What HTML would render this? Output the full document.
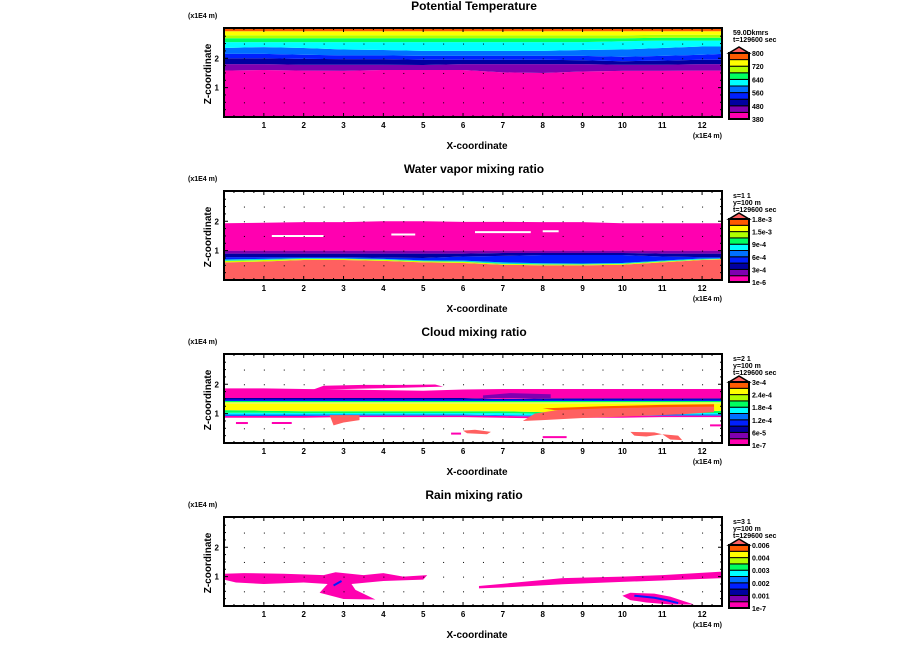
<!DOCTYPE html>
<html><head><meta charset="utf-8">
<style>
html,body{margin:0;padding:0;background:#fff;}
svg{display:block;}
text{font-family:"Liberation Sans",sans-serif;font-weight:bold;fill:#000;}
</style></head>
<body>
<svg id="chart" width="904" height="654" viewBox="0 0 904 654"></svg>
<script>
// ---------- data ----------
const xs = [0,1,2,3,4,5,6,7,8,9,10,11,12,12.5];
const xTicks = [1,2,3,4,5,6,7,8,9,10,11,12];
const zTicks = [1,2];
const titles = ["Potential Temperature","Water vapor mixing ratio","Cloud mixing ratio","Rain mixing ratio"];
const infoLines = [["59.0Dkmrs","t=129600 sec"],["s=1 1","y=100 m","t=129600 sec"],["s=2 1","y=100 m","t=129600 sec"],["s=3 1","y=100 m","t=129600 sec"]];
const cbLabels = [["800","720","640","560","480","380"],["1.8e-3","1.5e-3","9e-4","6e-4","3e-4","1e-6"],["3e-4","2.4e-4","1.8e-4","1.2e-4","6e-5","1e-7"],["0.006","0.004","0.003","0.002","0.001","1e-7"]];
const palette = ["#ff00b0","#8000b0","#0000a0","#0020ff","#0070ff","#00ffff","#00ff60","#b0ff00","#ffff00","#ff5a00"];
// panel 1 band tops (bottom to top)
const thetaMagenta = [1.58,1.6,1.58,1.57,1.6,1.6,1.6,1.52,1.5,1.55,1.57,1.57,1.58,1.58];
const thetaPurple = [1.8,1.8,1.78,1.78,1.78,1.77,1.8,1.8,1.8,1.8,1.78,1.78,1.8,1.8];
const thetaNavy = [2.0,2.0,1.98,1.97,1.97,1.95,1.95,1.95,1.95,1.93,1.9,1.92,1.95,1.95];
const thetaBlue = [2.15,2.15,2.12,2.1,2.1,2.08,2.08,2.08,2.08,2.08,2.05,2.08,2.12,2.15];
const thetaLightBlue = [2.35,2.38,2.35,2.3,2.28,2.25,2.25,2.25,2.25,2.28,2.3,2.35,2.4,2.4];
const thetaCyan = [2.55,2.55,2.55,2.55,2.55,2.55,2.55,2.55,2.55,2.55,2.58,2.6,2.6,2.6];
const thetaGreen = [2.68,2.68,2.68,2.68,2.68,2.68,2.68,2.68,2.68,2.68,2.68,2.7,2.7,2.7];
const thetaYG = [2.78,2.78,2.78,2.78,2.78,2.78,2.78,2.78,2.78,2.78,2.78,2.8,2.8,2.8];
const thetaYellow = [2.92,2.92,2.92,2.92,2.92,2.92,2.92,2.92,2.92,2.92,2.92,2.92,2.92,2.92];
const thetaOrange = [3.05,3.05,3.05,3.05,3.05,3.05,3.05,3.05,3.05,3.05,3.05,3.05,3.05,3.05];
// panel 2
const qvSalmon = [0.6,0.63,0.68,0.68,0.65,0.6,0.58,0.52,0.5,0.5,0.52,0.6,0.68,0.7];
const qvYellow = [0.65,0.68,0.72,0.72,0.69,0.64,0.62,0.55,0.53,0.53,0.55,0.63,0.7,0.72];
const qvCyan = [0.7,0.72,0.75,0.74,0.72,0.67,0.66,0.6,0.57,0.56,0.58,0.66,0.73,0.74];
const qvBlue = [0.78,0.78,0.78,0.78,0.76,0.75,0.8,0.82,0.85,0.85,0.85,0.8,0.78,0.78];
const qvNavy = [0.9,0.9,0.9,0.9,0.9,0.9,0.9,0.92,0.92,0.92,0.92,0.9,0.9,0.9];
const qvPurple = [1.0,1.0,1.0,1.0,1.0,1.0,1.0,1.0,1.0,1.0,1.0,1.0,1.0,1.0];
const qvMagenta = [1.93,1.95,1.97,1.97,2.0,2.0,1.98,1.98,1.97,1.97,1.93,1.93,1.93,1.93];
const qvGaps = [[1.2,2.5,1.5],[4.2,4.8,1.55],[6.3,7.7,1.63],[8.0,8.4,1.66]];
// panel 3
const qcBase = [0.86,0.86,0.86,0.88,0.88,0.88,0.88,0.86,0.84,0.86,0.86,0.88,0.88,0.88];
const qcMagLow = [0.92,0.92,0.92,0.93,0.93,0.93,0.93,0.92,0.9,0.92,0.92,0.93,0.93,0.93];
const qcBlue = [0.97,0.97,0.97,0.97,0.97,0.97,0.97,0.95,0.93,0.95,0.97,0.97,0.97,0.97];
const qcCyan = [1.03,1.03,1.02,1.02,1.02,1.02,1.02,1.02,1.0,1.0,1.0,1.0,1.02,1.02];
const qcGreen = [1.12,1.1,1.08,1.08,1.08,1.08,1.08,1.08,1.05,1.05,1.05,1.05,1.08,1.1];
const qcYellow = [1.33,1.33,1.33,1.33,1.33,1.33,1.33,1.33,1.33,1.33,1.33,1.33,1.33,1.33];
const qcYG = [1.39,1.39,1.39,1.39,1.39,1.39,1.39,1.39,1.39,1.39,1.39,1.39,1.39,1.39];
const qcGreen2 = [1.43,1.43,1.43,1.43,1.43,1.43,1.43,1.43,1.43,1.43,1.43,1.43,1.43,1.43];
const qcBlue2 = [1.48,1.48,1.48,1.48,1.48,1.48,1.48,1.48,1.48,1.48,1.48,1.48,1.48,1.48];
const qcNavy = [1.53,1.53,1.53,1.53,1.53,1.53,1.53,1.5,1.52,1.52,1.52,1.52,1.52,1.52];
const qcMagenta = [1.86,1.86,1.84,1.82,1.8,1.78,1.82,1.84,1.84,1.84,1.84,1.84,1.84,1.84];
const qcWisp = [[2.2,1.8],[2.5,1.95],[3.5,1.98],[4.5,1.98],[5.3,1.99],[5.5,1.92],[4.5,1.88],[3.5,1.85],[2.5,1.82]];
const qcPurplePatch = [[6.5,1.53],[6.5,1.62],[7.2,1.7],[8.2,1.66],[8.2,1.53]];
const qcSalmonA = [[7.5,0.75],[7.8,1.0],[8.5,1.15],[9.5,1.22],[11,1.25],[12.3,1.26],[12.3,1.05],[11.5,0.98],[10,0.9],[9,0.85],[8,0.78]];
const qcOrangeA = [[8.0,1.18],[9.5,1.25],[11,1.3],[12.3,1.32],[12.3,1.24],[11,1.22],[9.5,1.18],[8.3,1.12]];
const qcSalmonB = [[2.65,0.95],[3.4,0.95],[3.4,0.78],[3.0,0.7],[2.75,0.6]];
const qcSalmonC = [[6.0,0.42],[6.3,0.45],[6.7,0.38],[6.6,0.3],[6.1,0.33]];
const qcSalmonD = [[10.2,0.38],[10.8,0.36],[11.0,0.3],[10.6,0.22],[10.3,0.25]];
const qcSalmonE = [[11.0,0.3],[11.4,0.25],[11.5,0.1],[11.2,0.12]];
const qcMagBits = [[0.3,0.68,0.3],[1.2,0.68,0.5],[8.0,0.2,0.6],[5.7,0.32,0.25],[12.2,0.6,0.3]];
// panel 4
const qrPolyA = [[0,0.9],[0,1.1],[0.5,1.12],[1.5,1.1],[2.5,1.05],[2.8,1.15],[3.5,1.05],[4,1.12],[4.5,1.0],[5.1,1.05],[5.0,0.9],[4,0.85],[3.2,0.75],[3.3,0.55],[3.8,0.22],[3,0.24],[2.4,0.45],[2.6,0.75],[2,0.8],[1,0.75],[0.3,0.8]];
const qrPolyB = [[6.4,0.68],[7.5,0.82],[8.5,0.95],[10,1.0],[11,1.05],[12.5,1.17],[12.5,0.95],[11,0.87],[10,0.82],[8.5,0.74],[7,0.63],[6.4,0.6]];
const qrPolyC = [[10,0.35],[10.2,0.45],[10.8,0.42],[11.2,0.32],[11.8,0.05],[11.2,0.05],[10.6,0.12],[10.2,0.2]];
const qrBlueC = [[10.3,0.35],[10.8,0.28],[11.1,0.2],[11.4,0.1]];
const qrBlueA = [[2.75,0.7],[2.95,0.85]];

// ---------- layout ----------
const NS = "http://www.w3.org/2000/svg";
const svg = document.getElementById('chart');
const offsets = [0,163,326,489];
const PX0 = 224, PX1 = 722, XMAX = 12.5;
const PTOP = 28, PBOT = 117, ZMAX = 3.03;
function sx(x){ return PX0 + (x / XMAX) * (PX1 - PX0); }
function sz(o, z){ return o + PBOT - (z / ZMAX) * (PBOT - PTOP); }
function mk(tag, attrs, parent){
  const e = document.createElementNS(NS, tag);
  for (const k in attrs) e.setAttribute(k, attrs[k]);
  (parent || svg).appendChild(e);
  return e;
}
function bandsPanel(o, g, tops, colors){
  let prev = xs.map(() => 0);
  tops.forEach((top, i) => {
    const c = colors[i];
    if (c) {
      let d = "M" + xs.map((x, j) => sx(x) + "," + sz(o, Math.min(top[j], ZMAX))).join(" L");
      for (let j = xs.length - 1; j >= 0; j--) d += " L" + sx(xs[j]) + "," + sz(o, prev[j]);
      const p = mk('path', {d: d + "Z", fill: c}, g);
      
      
    }
    prev = top;
  });
}
function poly(o, g, pts, color){
  const p = mk('polygon', {points: pts.map(p => sx(p[0]) + "," + sz(o, p[1])).join(" "), fill: color}, g);
  
  
}
function line(o, g, pts, color, w){
  const p = mk('polyline', {points: pts.map(p => sx(p[0]) + "," + sz(o, p[1])).join(" "), fill: 'none', stroke: color, 'stroke-width': w}, g);
  
  
}
const P = palette, SAL = "#ff6060";

offsets.forEach((o, pi) => {
  const g = mk('g', {});
  
  
  const t = mk('text', {x: 474, y: o + 10, 'font-size': 12, 'text-anchor': 'middle'}, g);
  t.textContent = titles[pi];
  
  
  const zu = mk('text', {x: 188, y: o + 18, 'font-size': 7}, g);
  zu.textContent = "(x1E4 m)";
  
  

  const clipId = 'clip' + pi;
  const cp = mk('clipPath', {id: clipId}, g);
  mk('rect', {x: PX0, y: o + PTOP, width: PX1 - PX0, height: PBOT - PTOP}, cp);
  const pg = mk('g', {'clip-path': 'url(#' + clipId + ')'}, g);
  
  

  if (pi === 0) {
    bandsPanel(o, pg, [thetaMagenta,thetaPurple,thetaNavy,thetaBlue,thetaLightBlue,thetaCyan,thetaGreen,thetaYG,thetaYellow,thetaOrange], [P[0],P[1],P[2],P[3],P[4],P[5],P[6],P[7],P[8],P[9]]);
  } else if (pi === 1) {
    bandsPanel(o, pg, [qvSalmon,qvYellow,qvCyan,qvBlue,qvNavy,qvPurple,qvMagenta], [SAL,"#d0ff00","#00e0d0",P[3],P[2],P[1],P[0]]);
    qvGaps.forEach(gp => line(o, pg, [[gp[0], gp[2]], [gp[1], gp[2]]], "#fff", 2));
  } else if (pi === 2) {
    poly(o, pg, qcWisp, P[0]);
    bandsPanel(o, pg, [qcBase,qcMagLow,qcBlue,qcCyan,qcGreen,qcYellow,qcYG,qcGreen2,qcBlue2,qcNavy,qcMagenta], [null,P[0],P[4],P[5],P[6],P[8],"#e8ff40",P[6],P[3],P[2],P[0]]);
    poly(o, pg, qcPurplePatch, P[1]);
    [qcSalmonA,qcSalmonB,qcSalmonC,qcSalmonD,qcSalmonE].forEach(pp => poly(o, pg, pp, SAL));
    poly(o, pg, qcOrangeA, P[9]);
    qcMagBits.forEach(b => line(o, pg, [[b[0], b[1]], [b[0] + b[2], b[1]]], P[0], 2));
  } else {
    poly(o, pg, qrPolyA, P[0]);
    poly(o, pg, qrPolyB, P[0]);
    poly(o, pg, qrPolyC, P[0]);
    line(o, pg, qrBlueC, P[3], 2);
    line(o, pg, qrBlueA, P[3], 2);
  }
  // dot grid
  for (let x = 0.5; x < XMAX; x += 0.5) for (let z = 0.5; z < 3; z += 0.5) {
    const d = mk('rect', {x: sx(x), y: sz(o, z), width: 1, height: 1, fill: '#000'}, g);
    
    
  }
  const fr = mk('rect', {x: PX0, y: o + PTOP, width: PX1 - PX0, height: PBOT - PTOP, fill: 'none', stroke: '#000', 'stroke-width': 2}, g);
  
  
  // ticks
  for (let x = 0.25; x < XMAX; x += 0.25) {
    const maj = Math.abs(x - Math.round(x)) < 1e-6;
    const L = maj ? 4 : 2;
    mk('line', {x1: sx(x), x2: sx(x), y1: o + PBOT, y2: o + PBOT - L, stroke: '#000'}, g);
    mk('line', {x1: sx(x), x2: sx(x), y1: o + PTOP, y2: o + PTOP + L, stroke: '#000'}, g);
  }
  for (let z = 0.25; z < 3; z += 0.25) {
    const maj = Math.abs(z - Math.round(z)) < 1e-6;
    const L = maj ? 4 : 2;
    mk('line', {x1: PX0, x2: PX0 + L, y1: sz(o, z), y2: sz(o, z), stroke: '#000'}, g);
    mk('line', {x1: PX1, x2: PX1 - L, y1: sz(o, z), y2: sz(o, z), stroke: '#000'}, g);
  }
  xTicks.forEach(v => {
    const tl = mk('text', {x: sx(v), y: o + 128, 'font-size': 8, 'text-anchor': 'middle'}, g);
    tl.textContent = v;
    
    
  });
  zTicks.forEach(v => {
    const tl = mk('text', {x: 219, y: sz(o, v) + 3, 'font-size': 8, 'text-anchor': 'end'}, g);
    tl.textContent = v;
    
    
  });
  const xu = mk('text', {x: 722, y: o + 138, 'font-size': 7, 'text-anchor': 'end'}, g);
  xu.textContent = "(x1E4 m)";
  
  
  const xl = mk('text', {x: 477, y: o + 149, 'font-size': 10, 'text-anchor': 'middle'}, g);
  xl.textContent = "X-coordinate";
  
  
  const zl = mk('text', {x: 0, y: 0, 'font-size': 10, 'text-anchor': 'middle', transform: 'translate(211,' + (o + 74) + ') rotate(-90)'}, g);
  zl.textContent = "Z-coordinate";
  
  
  // info text
  infoLines[pi].forEach((s, i) => {
    const it = mk('text', {x: 733, y: o + 35 + i * 7, 'font-size': 7}, g);
    it.textContent = s;
    
    
  });
  // colorbar
  const cb = mk('g', {}, g);
  
  
  const triTop = o + (pi === 0 ? 47 : 50), b0 = o + (pi === 0 ? 53 : 56), b1 = o + 119;
  mk('polygon', {points: (729) + "," + b0 + " 739," + triTop + " 749," + b0, fill: SAL, stroke: '#000', 'stroke-width': 1.5}, cb);
  const n = 10, h = (b1 - b0) / n;
  for (let i = 0; i < n; i++) {
    const r = mk('rect', {x: 729, y: b1 - (i + 1) * h, width: 20, height: h, fill: P[i], stroke: '#000', 'stroke-width': 1}, cb);
    
    
  }
  mk('rect', {x: 729, y: b0, width: 20, height: b1 - b0, fill: 'none', stroke: '#000', 'stroke-width': 2}, cb);
  cbLabels[pi].forEach((s, i) => {
    const l = mk('text', {x: 752, y: b0 + 3 + i * (b1 - b0) / 5, 'font-size': 7}, cb);
    l.textContent = s;
    
    
  });
});
</script>
</body></html>
